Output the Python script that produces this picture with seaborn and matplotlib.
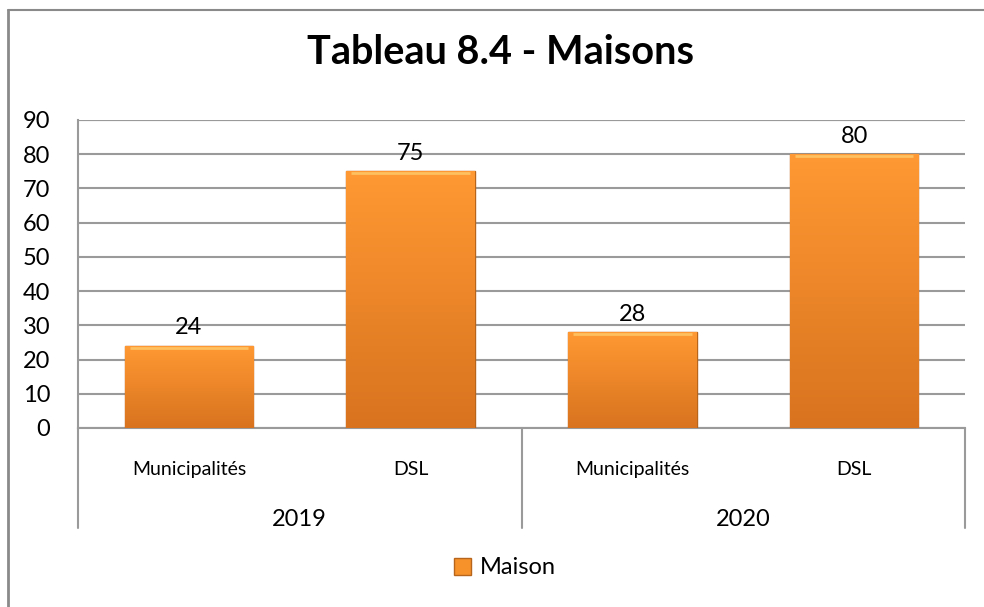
import numpy as np
import pandas as pd
import matplotlib.pyplot as plt
import seaborn as sns
from matplotlib.lines import Line2D
from matplotlib.patches import Patch

# data
years = ["2019", "2019", "2020", "2020"]
groups = ["Municipalités", "DSL", "Municipalités", "DSL"]
values = [24, 75, 28, 80]
year_labels = ["2019", "2020"]
series_name = "Maison"

df = pd.DataFrame({"slot": [f"{y}-{g}" for y, g in zip(years, groups)],
                   "value": values})

sns.set_theme(style="white")
plt.rcParams["font.family"] = ["Lato", "DejaVu Sans"]
plt.rcParams["text.color"] = "black"

W, H = 984, 607
fig = plt.figure(figsize=(W / 100, H / 100), dpi=100)
ax = fig.add_axes([78 / W, 1 - 428 / H, (965 - 78) / W, (428 - 120) / H])

grid_c = "#9a9a9a"
sns.barplot(data=df, x="slot", y="value", ax=ax, color="#F7922A",
            width=0.58, edgecolor="#b8651c", linewidth=1.0, zorder=3)

# vertical gradient on each bar
top_c = np.array([1.0, 0.60, 0.20])
bot_c = np.array([0.85, 0.45, 0.12])
grad = np.linspace(0, 1, 256)[:, None, None]
img = top_c * (1 - grad) + bot_c * grad
for p in ax.patches:
    x0, y0 = p.get_x(), p.get_y()
    w, h = p.get_width(), p.get_height()
    im = ax.imshow(img, extent=[x0, x0 + w, y0, y0 + h], aspect="auto",
                   origin="upper", zorder=3.5)
    im.set_clip_path(p)
    # light bevel on top edge
    ax.plot([x0 + w * 0.04, x0 + w * 0.96], [y0 + h - 0.5, y0 + h - 0.5],
            color="#ffc060", lw=2, zorder=4, solid_capstyle="butt")

ax.set_xlim(-0.5, 3.5)
ax.set_ylim(0, 90)
ax.set_yticks(range(0, 91, 10))
ax.tick_params(axis="y", labelsize=17, pad=20, length=0, labelcolor="black")
ax.set_xticks(range(len(groups)))
ax.set_xticklabels(groups, fontsize=14)
ax.tick_params(axis="x", length=0, pad=24, labelcolor="black")
ax.set_xlabel("")
ax.set_ylabel("")
ax.yaxis.grid(True, color=grid_c, lw=1.5, zorder=0)
ax.set_axisbelow(True)
for s in ["top", "right"]:
    ax.spines[s].set_visible(False)
ax.spines["left"].set_color(grid_c)
ax.spines["left"].set_linewidth(1.5)
ax.spines["bottom"].set_color(grid_c)
ax.spines["bottom"].set_linewidth(1.5)
ax.axhline(90, color=grid_c, lw=1.5, zorder=0)

# value labels
for i, v in enumerate(values):
    ax.text(i, v + 2.2, str(v), ha="center", va="bottom", fontsize=17)

# group separators and year labels under the axis
trans = ax.get_xaxis_transform()
drop = 100 / (428 - 120)
for xs in [-0.5, 1.5, 3.5]:
    ax.add_line(Line2D([xs, xs], [0, -drop], transform=trans, color=grid_c,
                       lw=1.5, clip_on=False))
for k, yl in enumerate(year_labels):
    ax.text(2 * k + 0.5, -(519 - 428) / (428 - 120), yl, transform=trans,
            ha="center", va="center", fontsize=17)

fig.suptitle("Tableau 8.4 - Maisons", y=1 - 53 / H, va="center",
             fontsize=28.5, fontweight="bold", x=500 / W, color="black")

leg = fig.legend(handles=[Patch(facecolor="#F7922A", edgecolor="#b8651c",
                                label=series_name)],
                 loc="center", bbox_to_anchor=(505 / W, 1 - 568 / H),
                 frameon=False, fontsize=17, handlelength=0.7,
                 handleheight=0.7, handletextpad=0.4)

# chart border (top and left only visible)
fig.add_artist(Line2D([8 / W, 1], [1 - 10 / H, 1 - 10 / H], color="#8a8a8a", lw=1.5))
fig.add_artist(Line2D([8 / W, 8 / W], [0, 1 - 10 / H], color="#8a8a8a", lw=2))

fig.savefig("out.png", dpi=100)
